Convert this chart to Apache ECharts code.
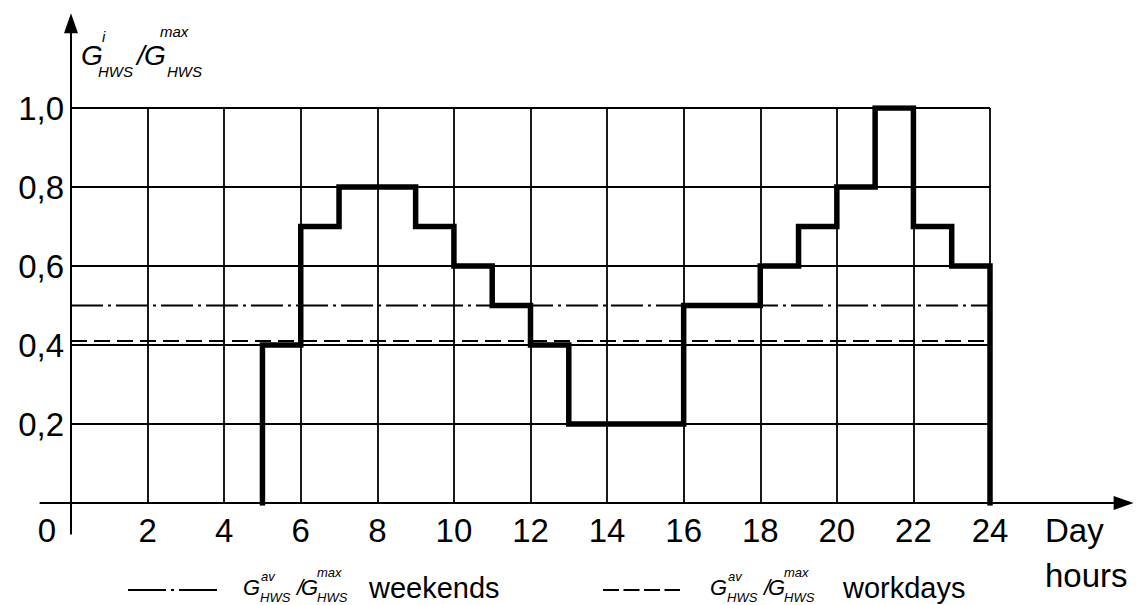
<!DOCTYPE html>
<html><head><meta charset="utf-8">
<script src="https://cdn.jsdelivr.net/npm/echarts@6/dist/echarts.min.js"></script>
<style>html,body{margin:0;padding:0;background:#fff}#c{width:1138px;height:605px}</style>
</head><body><div id="c"></div>
<script>
// ---- data ----
const hours = [5, 6, 7, 8, 9, 10, 11, 12, 13, 14, 15, 16, 17, 18, 19, 20, 21, 22, 23];
const flowRatio = [0.4, 0.7, 0.8, 0.8, 0.7, 0.6, 0.5, 0.4, 0.2, 0.2, 0.2, 0.5, 0.5, 0.6, 0.7, 0.8, 1.0, 0.7, 0.6];
const dayEnd = 24;
const weekendAvg = 0.5;
const workdayAvg = 0.41;
const xTickValues = [0, 2, 4, 6, 8, 10, 12, 14, 16, 18, 20, 22, 24];
const yTickLabels = ['0,2', '0,4', '0,6', '0,8', '1,0'];
const legendWeekends = 'weekends';
const legendWorkdays = 'workdays';
const xAxisName = ['Day', 'hours'];

// ---- build step path ----
const stepPts = [[hours[0], 0]];
hours.forEach((h, i) => { stepPts.push([h, flowRatio[i]], [h + 1, flowRatio[i]]); });
stepPts.push([dayEnd, 0]);

const FONT = '"Liberation Sans", Arial, Helvetica, sans-serif';
const chart = echarts.init(document.getElementById('c'), null, { renderer: 'svg' });

chart.setOption({
  animation: false,
  backgroundColor: '#fff',
  grid: { left: 71, right: 148, top: 108, bottom: 102, containLabel: false },
  xAxis: {
    type: 'value', min: 0, max: 24, interval: 2,
    axisLine: { show: false }, axisTick: { show: false },
    splitLine: { show: true, lineStyle: { color: '#000', width: 1.8 } },
    axisLabel: {
      color: '#000', fontSize: 33, fontFamily: FONT, margin: 11,
      formatter: v => (xTickValues.indexOf(v) < 0 ? '' : (v === 0 ? '{z|0}' : String(v))),
      rich: { z: { fontSize: 33, fontFamily: FONT, color: '#000', padding: [0, 48, 0, 0] } }
    }
  },
  yAxis: {
    type: 'value', min: 0, max: 1, interval: 0.2,
    axisLine: { show: false }, axisTick: { show: false },
    splitLine: { show: true, lineStyle: { color: '#000', width: 1.8 } },
    axisLabel: {
      color: '#000', fontSize: 33, fontFamily: FONT, margin: 7, showMinLabel: false,
      formatter: v => { const i = Math.round(v / 0.2) - 1; return i >= 0 ? yTickLabels[i] : ''; }
    }
  },
  series: [
    { name: 'weekends', type: 'line', data: [[0, weekendAvg], [24, weekendAvg]], showSymbol: false, silent: true,
      lineStyle: { color: '#000', width: 2, type: [32, 5, 3, 5] }, z: 3 },
    { name: 'workdays', type: 'line', data: [[0, workdayAvg], [24, workdayAvg]], showSymbol: false, silent: true,
      lineStyle: { color: '#000', width: 2, type: [16, 7] }, z: 3 },
    { name: 'flow', type: 'line', data: stepPts, showSymbol: false, silent: true,
      lineStyle: { color: '#000', width: 5.5, join: 'miter', cap: 'square' }, z: 4 }
  ]
});

// ---- decorations: extended axes with arrows ----
const P = (x, y) => chart.convertToPixel({ gridIndex: 0 }, [x, y]);
const o = P(0, 0);
const xl = P(-0.82, 0)[0], xr = P(27.75, 0)[0];
const yb = P(0, -0.08)[1], yt = P(0, 1.24)[1];

function t(text, x, y, size, italic) {
  return { type: 'text', x: x, y: y, silent: true, style: {
    text: text, fill: '#000', fontSize: size, fontFamily: FONT,
    fontStyle: italic ? 'italic' : 'normal', verticalAlign: 'middle', align: 'left'
  } };
}
// G^a_HWS / G^b_HWS
function ratio(L, supL, supR) {
  const d = L.dx;
  return [
    t('G', L.x + d[0], L.y, L.big, true),
    t(supL, L.x + d[1], L.y + L.up[0], L.small, true),
    t('HWS', L.x + d[2], L.y + L.down, L.small, true),
    t('/', L.x + d[3], L.y, L.big, true),
    t('G', L.x + d[4], L.y, L.big, true),
    t(supR, L.x + d[5], L.y + L.up[1], L.small, true),
    t('HWS', L.x + d[6], L.y + L.down, L.small, true)
  ];
}
const titleLayout = { x: 81, y: 55, big: 28, small: 15, dx: [0, 21, 17, 56, 63, 79, 86], up: [-19, -24], down: 16 };
const legLayoutA = { x: 243, y: 587, big: 22, small: 13, dx: [0, 18, 17, 54, 58, 74, 74], up: [-11, -15], down: 10 };
const legLayoutB = { x: 710, y: 587, big: 22, small: 13, dx: [0, 18, 17, 54, 58, 74, 74], up: [-11, -15], down: 10 };

const g = [
  { type: 'line', shape: { x1: xl, y1: o[1], x2: xr - 16, y2: o[1] }, style: { stroke: '#000', lineWidth: 2 }, silent: true },
  { type: 'polygon', shape: { points: [[xr, o[1]], [xr - 20, o[1] - 7], [xr - 20, o[1] + 7]] }, style: { fill: '#000' }, silent: true },
  { type: 'line', shape: { x1: o[0], y1: yb, x2: o[0], y2: yt + 16 }, style: { stroke: '#000', lineWidth: 2 }, silent: true },
  { type: 'polygon', shape: { points: [[o[0], yt], [o[0] - 7, yt + 20], [o[0] + 7, yt + 20]] }, style: { fill: '#000' }, silent: true },
  // x axis name
  t(xAxisName[0], 1045, 530, 33, false),
  t(xAxisName[1], 1045, 575, 33, false),
  // legend samples
  { type: 'line', shape: { x1: 128, y1: 590, x2: 218, y2: 590 }, style: { stroke: '#000', lineWidth: 2, lineDash: [38, 5, 3, 5] }, silent: true },
  { type: 'line', shape: { x1: 603, y1: 590, x2: 680, y2: 590 }, style: { stroke: '#000', lineWidth: 2, lineDash: [16, 4.5] }, silent: true },
  t(legendWeekends, 369, 588, 29, false),
  t(legendWorkdays, 843, 588, 29, false)
].concat(ratio(titleLayout, 'i', 'max'))
 .concat(ratio(legLayoutA, 'av', 'max'))
 .concat(ratio(legLayoutB, 'av', 'max'));

chart.setOption({ graphic: g });
</script>
</body></html>
